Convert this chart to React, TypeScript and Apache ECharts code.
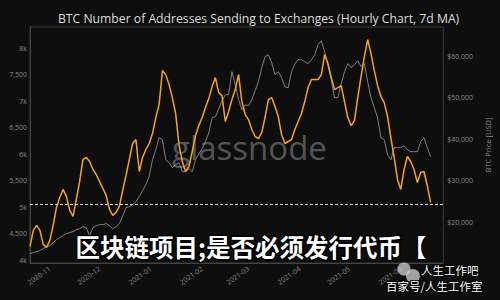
import React, { useEffect, useRef } from "react";
import * as echarts from "echarts";

// ---- data ----
const startDate = [2020, 9, 20]; // 2020-10-20 (UTC), samples every 2 days
const stepDays = 2;

const addresses = [
  4264, 4565, 4659, 4565, 4301, 4245, 4377, 4659, 4998, 5186,
  5337, 5205, 4942, 4829, 5149, 5488, 5902, 5939, 5864, 5714,
  5619, 5488, 5356, 5224, 4960, 4847, 4904, 5017, 5318, 5601,
  5902, 6203, 6278, 5676, 5939, 6090, 6203, 6391, 6693, 6937,
  7578, 7502, 7314, 7069, 6768, 6184, 5864, 5676, 5770, 6052,
  6354, 6542, 6693, 6881, 7050, 7276, 7446, 7163, 7107, 6617,
  6806, 7032, 7220, 7502, 6994, 6749, 6655, 6467, 6335, 6297,
  6410, 6693, 7032, 7069, 6900, 6712, 6373, 6203, 6241, 6278,
  6467, 6617, 6768, 6994, 7258, 7408, 7408, 7408, 7502, 7879,
  7710, 7446, 7220, 7258, 7295, 6994, 6693, 6542, 6636, 7069,
  7465, 7841, 8161, 7898, 7578, 7295, 7088, 6975, 6712, 6316,
  5939, 5525, 5337, 5714, 5958, 5864, 5714, 5469, 5657, 5676,
  5412, 5092,
];

const price = [
  12457, 12698, 12939, 13180, 13662, 14144, 14385, 15108, 15831, 16313,
  16795, 17277, 17518, 17759, 18241, 18482, 18964, 18723, 16795, 18723,
  19205, 19446, 19446, 19687, 19205, 18482, 18964, 19687, 21615, 23543,
  23784, 24266, 24989, 26194, 27640, 29086, 31014, 35111, 37521, 40413,
  39931, 35111, 34388, 33183, 33906, 34388, 32219, 32219, 32942, 32219,
  35111, 36557, 37762, 39449, 41618, 45233, 45474, 47402, 49330, 50776,
  50776, 56319, 53186, 49571, 47161, 48366, 48125, 49571, 51740, 53909,
  57283, 59934, 60416, 58488, 55596, 56319, 54873, 52704, 52463, 56319,
  58247, 59211, 59211, 58729, 58247, 59211, 60416, 62826, 63790, 61139,
  57765, 54391, 50053, 50053, 53427, 56319, 58247, 57283, 58005, 58970,
  57524, 58247, 53909, 50053, 47643, 45233, 40413, 39931, 36316, 35111,
  38003, 38003, 38003, 38485, 37521, 37039, 37039, 37039, 39449, 40413,
  38003, 35834,
];

const leftTicks = [4000, 4500, 5000, 5500, 6000, 6500, 7000, 7500, 8000];
const rightTicks = [20000, 30000, 40000, 50000, 60000];
const monthTicks = [
  [2020, 10], [2020, 11], [2021, 0], [2021, 1], [2021, 2], [2021, 3], [2021, 4], [2021, 5],
];
const refLevel = 5050;

const titleText = "BTC Number of Addresses Sending to Exchanges (Hourly Chart, 7d MA)";
const overlayText = "区块链项目;是否必须发行代币【";
const markText1 = "人生工作吧";
const markText2 = "百家号/人生工作室";

const DAY = 86400000;

export default function App() {
  const ref = useRef<HTMLDivElement>(null);

  useEffect(() => {
    if (!ref.current) return;
    const chart = echarts.init(ref.current, null, { renderer: "svg" });
    const t0 = Date.UTC(startDate[0], startDate[1], startDate[2]);
    const dates = addresses.map((_, i) => t0 + i * stepDays * DAY);
    const addrData = addresses.map((v, i) => [dates[i], v]);
    const priceData = price.map((v, i) => [dates[i], v]);
    const monthVals = monthTicks.map(([y, m]) => Date.UTC(y, m, 1));

    const font = "'Open Sans', 'Noto Sans', sans-serif";

    chart.setOption({
      animation: false,
      backgroundColor: "#0e0e0e",
      title: {
        text: titleText,
        left: 53,
        top: 7,
        textStyle: { color: "#dddddd", fontSize: 12.2, fontWeight: "normal", fontFamily: font },
      },
      grid: {
        left: 30,
        right: 48,
        top: 27,
        bottom: 37,
        show: true,
        borderColor: "#3a3a3a",
        borderWidth: 1,
      },
      xAxis: {
        type: "value",
        min: Date.UTC(2020, 9, 20),
        max: Date.UTC(2021, 5, 26, 16),
        axisLine: { show: true, lineStyle: { color: "#444" } },
        axisTick: { show: false },
        splitLine: { show: false },
        axisLabel: {
          customValues: monthVals,
          rotate: 35,
          fontSize: 7,
          color: "#8a8a8a",
          fontFamily: font,
          margin: 5,
          formatter: (v: number) => {
            const d = new Date(v);
            const m = d.getUTCMonth() + 1;
            return d.getUTCFullYear() + "-" + (m < 10 ? "0" + m : "" + m);
          },
        },
      },
      yAxis: [
        {
          type: "value",
          min: 3950,
          max: 8400,
          axisLine: { show: true, lineStyle: { color: "#444" } },
          axisTick: { show: false },
          splitLine: { show: false },
          axisLabel: {
            customValues: leftTicks,
            fontSize: 7,
            color: "#8a8a8a",
            fontFamily: font,
            margin: 3,
            formatter: (v: number) =>
              v % 1000 === 0 ? v / 1000 + "k" : v.toLocaleString("en-US"),
          },
        },
        {
          type: "value",
          position: "right",
          min: 10200,
          max: 67100,
          axisLine: { show: false },
          axisTick: { show: false },
          splitLine: { show: false },
          name: "BTC Price [USD]",
          nameLocation: "middle",
          nameRotate: 90,
          nameGap: 34,
          nameTextStyle: { color: "#8a8a8a", fontSize: 7.5, fontFamily: font },
          axisLabel: {
            customValues: rightTicks,
            fontSize: 7,
            color: "#8a8a8a",
            fontFamily: font,
            margin: 4,
            formatter: (v: number) => "$" + v.toLocaleString("en-US"),
          },
        },
      ],
      series: [
        {
          type: "line",
          yAxisIndex: 1,
          data: priceData,
          showSymbol: false,
          lineStyle: { color: "#a5a5a5", width: 1, opacity: 0.75 },
          z: 2,
        },
        {
          type: "line",
          yAxisIndex: 0,
          data: addrData,
          showSymbol: false,
          lineStyle: { color: "#f5a328", width: 1.5 },
          z: 3,
          markLine: {
            silent: true,
            symbol: "none",
            label: { show: false },
            lineStyle: { color: "#d8d8d8", type: [3, 2], width: 1.2 },
            data: [{ yAxis: refLevel }],
          },
        },
      ],
      graphic: [
        {
          type: "text",
          left: 172,
          top: 131,
          z: 1,
          style: {
            text: "glassnode",
            fontSize: 33,
            fontFamily: font,
            fontWeight: 500,
            fill: "rgba(125,125,125,0.65)",
          },
        },
        {
          type: "text",
          left: 74,
          top: 233,
          z: 10,
          style: {
            text: overlayText,
            fontSize: 24.5,
            fontWeight: "bold",
            fontFamily: "'Noto Sans CJK SC', sans-serif",
            fill: "#ffffff",
            stroke: "#000000",
            lineWidth: 3,
          },
        },
        {
          type: "circle",
          z: 11,
          shape: { cx: 404, cy: 269, r: 6.5 },
          style: { fill: "rgba(210,210,210,0.75)" },
        },
        {
          type: "circle",
          z: 11,
          shape: { cx: 413, cy: 276, r: 7 },
          style: { fill: "rgba(210,210,210,0.75)" },
        },
        {
          type: "text",
          left: 420,
          top: 263,
          z: 12,
          style: {
            text: markText1,
            fontSize: 11.5,
            fontFamily: "'Noto Sans CJK SC', sans-serif",
            fill: "#ffffff",
            stroke: "#000000",
            lineWidth: 2,
          },
        },
        {
          type: "text",
          left: 385,
          top: 279,
          z: 12,
          style: {
            text: markText2,
            fontSize: 11.5,
            fontFamily: "'Noto Sans CJK SC', sans-serif",
            fill: "#ffffff",
            stroke: "#000000",
            lineWidth: 2,
          },
        },
      ],
    });

    return () => chart.dispose();
  }, []);

  return (
    <div
      ref={ref}
      style={{ position: "fixed", left: 0, top: 0, width: 500, height: 300 }}
    />
  );
}
